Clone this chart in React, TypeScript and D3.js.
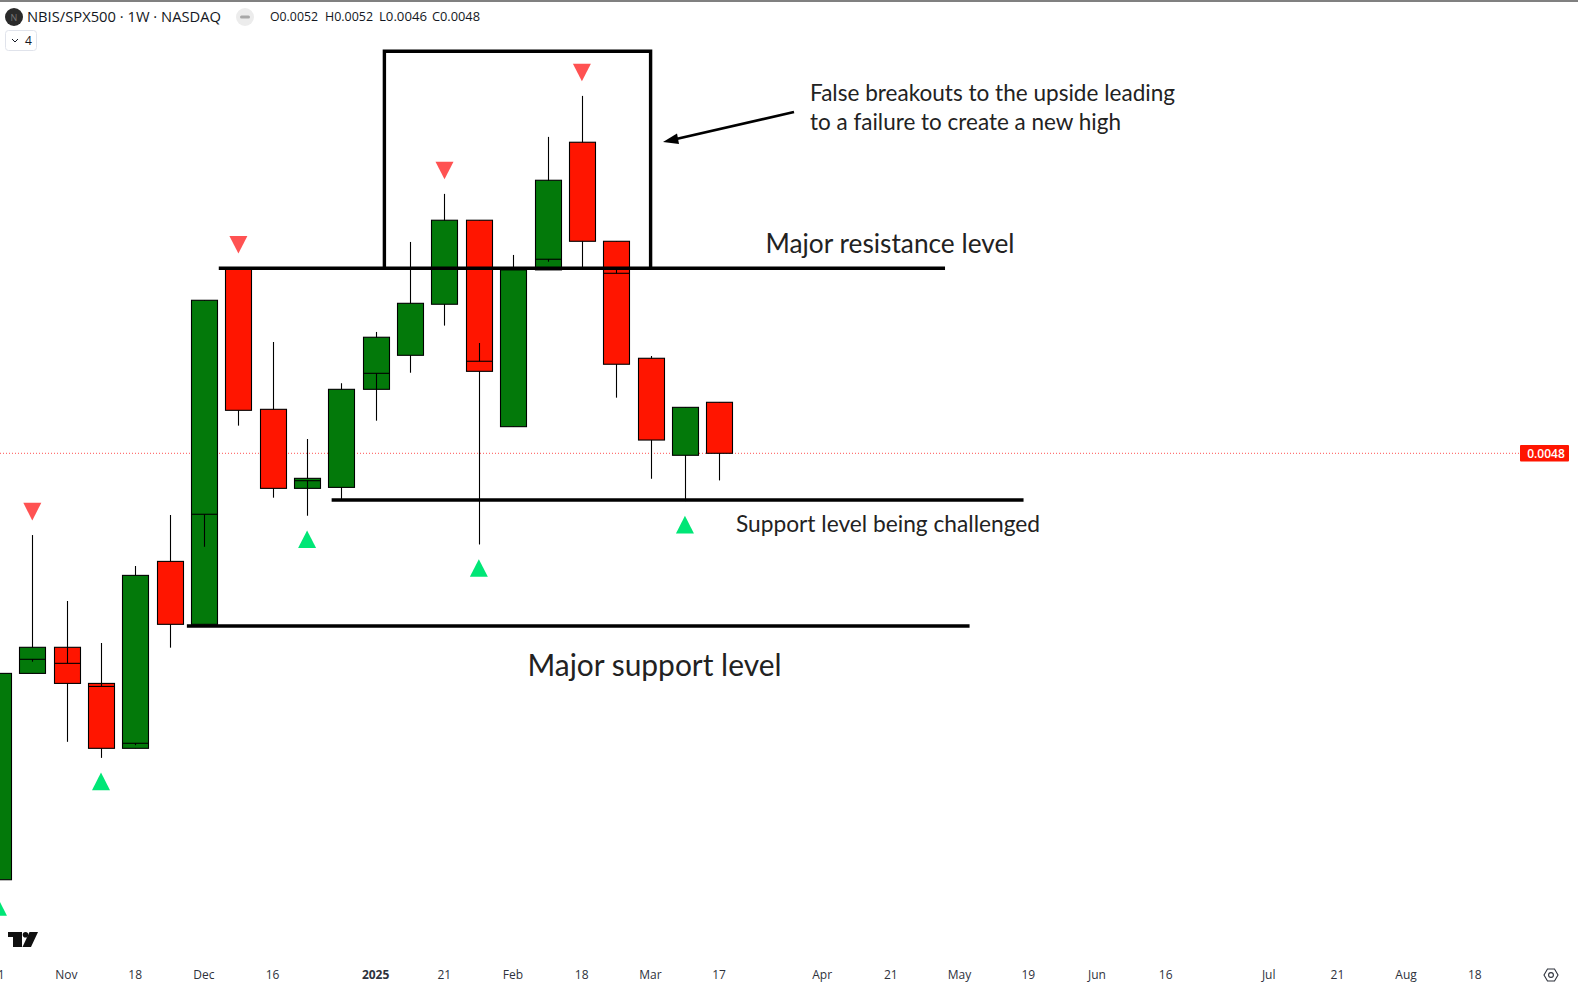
import React, { useRef, useEffect } from 'react';
import * as d3 from 'd3';

// weekly candles, prices
const weeks = [
  '2024-10-21', '2024-10-28', '2024-11-04', '2024-11-11', '2024-11-18', '2024-11-25',
  '2024-12-02', '2024-12-09', '2024-12-16', '2024-12-23', '2024-12-30', '2025-01-06',
  '2025-01-13', '2025-01-20', '2025-01-27', '2025-02-03', '2025-02-10', '2025-02-17',
  '2025-02-24', '2025-03-03', '2025-03-10', '2025-03-17',
];
const opens = [
  0.002458, 0.003398, 0.00354, 0.003345, 0.003021, 0.004051, 0.00367, 0.006418, 0.005143, 0.004543, 0.00455,
  0.005307, 0.005598, 0.006065, 0.00692, 0.005005, 0.006401, 0.007821, 0.006695, 0.005572, 0.004785, 0.0052,
];
const highs = [
  0.003398, 0.004222, 0.003807, 0.003564, 0.004022, 0.004357, 0.006103, 0.006418, 0.005716, 0.004909, 0.005358,
  0.005807, 0.006688, 0.007212, 0.00692, 0.006553, 0.007887, 0.008411, 0.006695, 0.005592, 0.005159, 0.0052,
];
const lows = [
  0.002444, 0.003398, 0.003052, 0.002976, 0.003021, 0.003538, 0.00367, 0.005013, 0.004477, 0.004352, 0.004461,
  0.005052, 0.005447, 0.005865, 0.00416, 0.005005, 0.006401, 0.006421, 0.005238, 0.004612, 0.004453, 0.0046,
];
const closes = [
  0.003398, 0.00354, 0.003345, 0.003021, 0.003963, 0.00367, 0.006103, 0.005135, 0.004543, 0.004615, 0.005307,
  0.005759, 0.006074, 0.00692, 0.005459, 0.006401, 0.007368, 0.006695, 0.00552, 0.004901, 0.005159, 0.0048,
];
// the small cross line inside some bodies: level and where its stub ends
const crossLevels = [
  null, 0.003474, 0.003452, 0.003329, 0.003045, null, 0.004362, null, null, 0.004598, null,
  0.005442, null, null, 0.005546, null, 0.006509, null, 0.006367, null, null, null,
];
const crossEnds = [
  null, 0.003461, 0.00354, 0.003345, 0.003036, null, 0.004145, null, null, 0.004543, null,
  0.005307, null, null, 0.005707, null, 0.006484, null, 0.006411, null, null, null,
];

const pivotHighs = ['2024-10-28', '2024-12-09', '2025-01-20', '2025-02-17'];
const pivotLows = ['2024-10-21', '2024-11-11', '2024-12-23', '2025-01-27', '2025-03-10'];

const tickDates = [
  '2024-10-21', '2024-11-04', '2024-11-18', '2024-12-02', '2024-12-16', '2025-01-06', '2025-01-20',
  '2025-02-03', '2025-02-17', '2025-03-03', '2025-03-17', '2025-04-07', '2025-04-21', '2025-05-05',
  '2025-05-19', '2025-06-02', '2025-06-16', '2025-07-07', '2025-07-21', '2025-08-04', '2025-08-18',
];
const tickLabels = [
  '21', 'Nov', '18', 'Dec', '16', '2025', '21', 'Feb', '18', 'Mar', '17', 'Apr', '21', 'May', '19', 'Jun',
  '16', 'Jul', '21', 'Aug', '18',
];

// horizontal levels drawn on the chart
const levelPrices = [0.006418, 0.004461, 0.00366];
const levelStarts = ['2024-12-05T00:00Z', '2024-12-28T00:00Z', '2024-11-28T12:00Z'];
const levelEnds = ['2025-05-02T00:00Z', '2025-05-18T00:00Z', '2025-05-07T00:00Z'];
const boxDates = ['2025-01-07T18:00Z', '2025-03-03T00:00Z'];
const boxPrices = [0.009022, 0.006418];
const lastClose = 0.0048;

const width = 1578;
const height = 984;
const green = '#03790a';
const red = '#ff1500';
const uiFont = '"Open Sans", "Noto Sans", sans-serif';

const App: React.FC = () => {
  const svgRef = useRef<SVGSVGElement | null>(null);

  useEffect(() => {
    if (!svgRef.current) return;
    const svg = d3.select(svgRef.current);
    svg.selectAll('*').remove();

    const x = d3
      .scaleUtc()
      .domain([new Date('2024-10-21'), new Date('2025-08-18')])
      .range([-2.05, 1475]);
    const y = d3.scaleLog().domain([0.0048, 0.0052]).range([453.3, 402.3]);
    const px = (d: string) => Math.round(x(new Date(d))) + 0.5;

    // top border
    svg.append('rect').attr('width', width).attr('height', 2).attr('fill', '#808080');

    // last price line
    svg
      .append('line')
      .attr('x1', 0)
      .attr('x2', 1520)
      .attr('y1', y(lastClose))
      .attr('y2', y(lastClose))
      .attr('stroke', '#ff5252')
      .attr('stroke-width', 1)
      .attr('stroke-dasharray', '1 2');

    // Candles
    const candles = svg
      .append('g')
      .selectAll('g')
      .data(weeks)
      .enter()
      .append('g');

    candles
      .append('line')
      .attr('x1', d => px(d))
      .attr('x2', d => px(d))
      .attr('y1', (_, i) => y(highs[i]))
      .attr('y2', (_, i) => y(lows[i]))
      .attr('stroke', '#000')
      .attr('stroke-width', 1.1);

    candles
      .append('rect')
      .attr('x', d => px(d) - 13)
      .attr('width', 26)
      .attr('y', (_, i) => y(Math.max(opens[i], closes[i])))
      .attr('height', (_, i) => y(Math.min(opens[i], closes[i])) - y(Math.max(opens[i], closes[i])))
      .attr('fill', (_, i) => (closes[i] >= opens[i] ? green : red))
      .attr('stroke', '#000')
      .attr('stroke-width', 1.1);

    // cross line + stub inside the body
    const crossed = candles.filter((_, i) => crossLevels[i] !== null);
    crossed
      .append('line')
      .attr('x1', d => px(d) - 13)
      .attr('x2', d => px(d) + 13)
      .attr('y1', d => y(crossLevels[weeks.indexOf(d)]!))
      .attr('y2', d => y(crossLevels[weeks.indexOf(d)]!))
      .attr('stroke', '#000')
      .attr('stroke-width', 1.1);
    crossed
      .append('line')
      .attr('x1', d => px(d))
      .attr('x2', d => px(d))
      .attr('y1', d => y(crossLevels[weeks.indexOf(d)]!))
      .attr('y2', d => y(crossEnds[weeks.indexOf(d)]!))
      .attr('stroke', '#000')
      .attr('stroke-width', 1.1);

    // Pivot triangles
    const tri = d3.line();
    svg
      .append('g')
      .selectAll('path')
      .data(pivotHighs)
      .enter()
      .append('path')
      .attr('fill', '#ff5252')
      .attr('d', d => {
        const cx = x(new Date(d));
        const tip = y(highs[weeks.indexOf(d)]) - 14.6;
        return tri([[cx, tip], [cx - 9, tip - 17.6], [cx + 9, tip - 17.6]]) + 'Z';
      });
    svg
      .append('g')
      .selectAll('path')
      .data(pivotLows)
      .enter()
      .append('path')
      .attr('fill', '#00e676')
      .attr('d', d => {
        const cx = x(new Date(d));
        const tip = y(lows[weeks.indexOf(d)]) + 14.7;
        return tri([[cx, tip], [cx - 9, tip + 17.6], [cx + 9, tip + 17.6]]) + 'Z';
      });

    // Levels and box
    svg
      .append('g')
      .selectAll('line')
      .data(levelPrices)
      .enter()
      .append('line')
      .attr('x1', (_, i) => x(new Date(levelStarts[i])))
      .attr('x2', (_, i) => x(new Date(levelEnds[i])))
      .attr('y1', d => y(d))
      .attr('y2', d => y(d))
      .attr('stroke', '#000')
      .attr('stroke-width', 3.4);

    svg
      .append('path')
      .attr('fill', 'none')
      .attr('stroke', '#000')
      .attr('stroke-width', 3.4)
      .attr(
        'd',
        tri([
          [x(new Date(boxDates[0])), y(boxPrices[1])],
          [x(new Date(boxDates[0])), y(boxPrices[0])],
          [x(new Date(boxDates[1])), y(boxPrices[0])],
          [x(new Date(boxDates[1])), y(boxPrices[1])],
        ])!
      );

    // Arrow
    svg
      .append('line')
      .attr('x1', 794)
      .attr('y1', 112)
      .attr('x2', 674)
      .attr('y2', 139.5)
      .attr('stroke', '#000')
      .attr('stroke-width', 2.8);
    svg.append('path').attr('d', 'M663,142L677,133.6L679,144Z').attr('fill', '#000');

    // Annotation text
    const notes = [
      { text: 'False breakouts to the upside leading', x: 810, y: 100.5, size: 23.5, len: 365 },
      { text: 'to a failure to create a new high', x: 810, y: 129.5, size: 23.5, len: 311 },
      { text: 'Major resistance level', x: 765.5, y: 253, size: 27, len: 249 },
      { text: 'Support level being challenged', x: 736, y: 531.5, size: 22.5, len: 304 },
      { text: 'Major support level', x: 527.5, y: 676, size: 31, len: 254 },
    ];
    svg
      .append('g')
      .selectAll('text')
      .data(notes)
      .enter()
      .append('text')
      .attr('x', d => d.x)
      .attr('y', d => d.y)
      .attr('font-family', 'Lato, sans-serif')
      .attr('font-size', d => d.size)
      .attr('fill', '#222')
      .attr('textLength', d => d.len)
      .attr('lengthAdjust', 'spacingAndGlyphs')
      .text(d => d.text);

    // Header
    const header = svg.append('g').attr('font-family', uiFont).attr('fill', '#131722');
    header.append('circle').attr('cx', 14).attr('cy', 17).attr('r', 9).attr('fill', '#2a2a2a');
    header
      .append('text')
      .attr('x', 14)
      .attr('y', 20.5)
      .attr('text-anchor', 'middle')
      .attr('font-size', 9)
      .attr('fill', '#777')
      .text('N');
    header
      .append('text')
      .attr('x', 27)
      .attr('y', 22)
      .attr('font-size', 14)
      .attr('textLength', 194)
      .attr('lengthAdjust', 'spacingAndGlyphs')
      .text('NBIS/SPX500 · 1W · NASDAQ');
    header.append('circle').attr('cx', 245).attr('cy', 17).attr('r', 9).attr('fill', '#ececec');
    header
      .append('rect')
      .attr('x', 240)
      .attr('y', 15.5)
      .attr('width', 10)
      .attr('height', 3)
      .attr('rx', 1.5)
      .attr('fill', '#a8a8a8');
    const ohlc = ['O0.0052', 'H0.0052', 'L0.0046', 'C0.0048'];
    const ohlcX = [270, 325, 379, 432];
    ohlc.forEach((t, i) => {
      header
        .append('text')
        .attr('x', ohlcX[i])
        .attr('y', 21)
        .attr('font-size', 12)
        .attr('textLength', 48)
        .attr('lengthAdjust', 'spacingAndGlyphs')
        .text(t);
    });
    header
      .append('rect')
      .attr('x', 5.5)
      .attr('y', 30.5)
      .attr('width', 31)
      .attr('height', 20)
      .attr('rx', 3)
      .attr('fill', '#fff')
      .attr('stroke', '#e0e3eb');
    header
      .append('path')
      .attr('d', 'M12,39L15,42L18,39')
      .attr('fill', 'none')
      .attr('stroke', '#131722')
      .attr('stroke-width', 1);
    header.append('text').attr('x', 25).attr('y', 45).attr('font-size', 12).text('4');

    // Price label
    svg
      .append('rect')
      .attr('x', 1520)
      .attr('y', y(lastClose) - 8.3)
      .attr('width', 49)
      .attr('height', 16.6)
      .attr('rx', 1)
      .attr('fill', red);
    svg
      .append('text')
      .attr('x', 1546)
      .attr('y', y(lastClose) + 4.5)
      .attr('text-anchor', 'middle')
      .attr('font-family', uiFont)
      .attr('font-size', 12)
      .attr('font-weight', 600)
      .attr('fill', '#fff')
      .text(lastClose.toFixed(4));

    // X axis
    const axis = d3
      .axisBottom(x)
      .tickValues(tickDates.map(d => new Date(d)))
      .tickFormat((_, i) => tickLabels[i])
      .tickSize(0);
    const axisG = svg.append('g').attr('transform', 'translate(-0.7,967)').call(axis as any);
    axisG.select('.domain').remove();
    axisG
      .selectAll('text')
      .attr('font-family', uiFont)
      .attr('font-size', 12)
      .attr('fill', '#2e323c')
      .attr('font-weight', (_, i) => (tickLabels[i] === '2025' ? 700 : 400));

    // TradingView logo
    const logo = svg.append('g').attr('fill', '#111');
    logo.append('path').attr('d', 'M8,932H22V947H13V937H8Z');
    logo.append('circle').attr('cx', 25.5).attr('cy', 934.8).attr('r', 2.8);
    logo.append('path').attr('d', 'M29.5,932H38L31,947H22.5Z');

    // Settings icon
    svg
      .append('path')
      .attr('d', 'M1544,975L1547.5,969H1554.5L1558,975L1554.5,981H1547.5Z')
      .attr('fill', 'none')
      .attr('stroke', '#2e323c')
      .attr('stroke-width', 1.1);
    svg
      .append('circle')
      .attr('cx', 1551)
      .attr('cy', 975)
      .attr('r', 2.4)
      .attr('fill', 'none')
      .attr('stroke', '#2e323c')
      .attr('stroke-width', 1.1);
  }, []);

  return (
    <svg
      ref={svgRef}
      width={width}
      height={height}
      style={{ position: 'absolute', left: 0, top: 0, background: '#fff', display: 'block' }}
    />
  );
};

export default App;
